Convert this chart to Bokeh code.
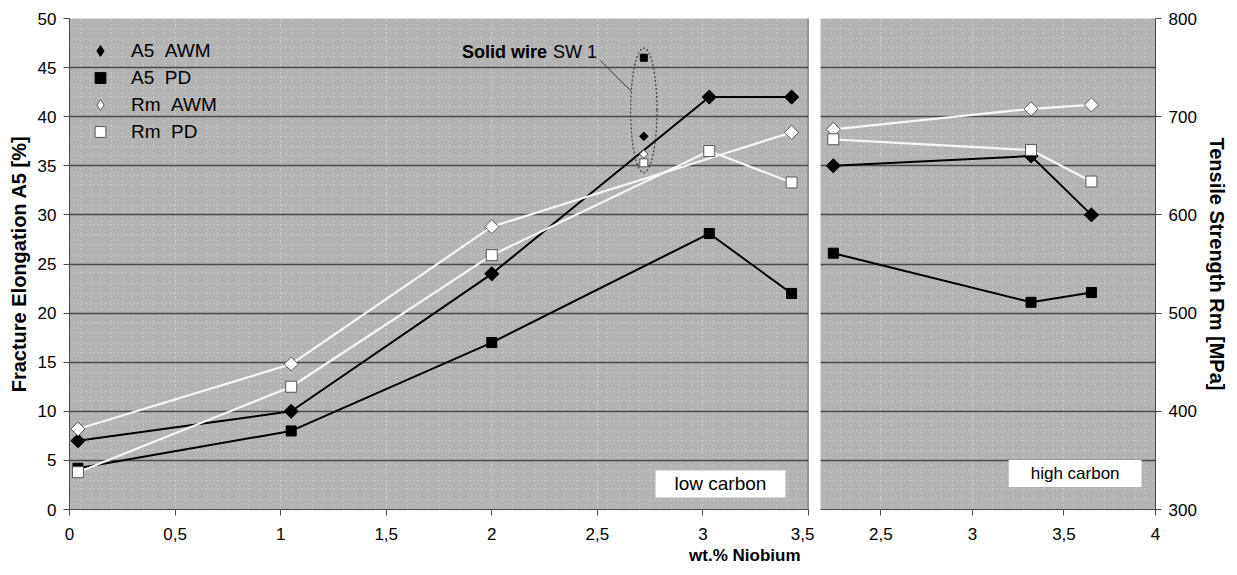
from bokeh.plotting import figure
from bokeh.models import (Range1d, LinearAxis, SingleIntervalTicker, Grid, Legend, LegendItem,
                          Label, Span, Title, CustomJSTickFormatter)
from bokeh.layouts import row
from bokeh.embed import file_html
from bokeh.resources import INLINE
import math

# ---------------- data ----------------
# low carbon wires (wt.% Nb)
lc_x = [0.04, 1.05, 2.0, 3.03, 3.42]
lc_a5_awm = [7, 10, 24, 42, 42]          # fracture elongation A5 [%], all-weld metal
lc_a5_pd = [4.2, 8, 17, 28.1, 22]        # fracture elongation A5 [%], PD
lc_rm_awm_x = [0.04, 1.05, 2.0, 3.42]
lc_rm_awm = [382, 448, 588, 684]         # tensile strength Rm [MPa], AWM
lc_rm_pd = [338, 425, 559, 665, 633]     # tensile strength Rm [MPa], PD

# solid wire SW 1
sw1_x = [2.72]
sw1_a5_awm = [38.0]
sw1_a5_pd = [46.0]
sw1_rm_awm = [662]
sw1_rm_pd = [653]

# high carbon wires
hc_x = [2.24, 3.32, 3.65]
hc_a5_awm = [35, 36, 30]
hc_a5_pd = [26.1, 21.1, 22.1]
hc_rm_awm = [687, 708, 712]
hc_rm_pd = [677, 666, 634]

series_names = ["A5\u00a0\u00a0AWM", "A5\u00a0\u00a0PD", "Rm\u00a0\u00a0AWM", "Rm\u00a0\u00a0PD"]

# ---------------- style ----------------
FONT = "Liberation Sans"
BG = "#b3b3b3"
MAJ = "#4a4a4a"
DOT = "#d6d6d6"
WHITE_LINE = "#f6f6f6"
TICK_FS = "17px"
ROT = math.pi / 4
NAN = float("nan")

fmt = CustomJSTickFormatter(code="return String(tick).replace('.', ',');")


def style_axis(ax):
    ax.axis_line_color = MAJ
    ax.major_tick_line_color = MAJ
    ax.major_tick_in = 0
    ax.major_tick_out = 6
    ax.minor_tick_line_color = None
    ax.major_label_text_font = FONT
    ax.major_label_text_font_size = TICK_FS
    ax.major_label_text_color = "black"
    ax.axis_label_text_font = FONT
    ax.axis_label_text_font_size = "20px"
    ax.axis_label_text_font_style = "bold"
    ax.axis_label_text_color = "black"


def add_grids(p, xticker):
    p.grid.visible = False
    yt = SingleIntervalTicker(interval=5, num_minor_ticks=5)
    gx = Grid(dimension=0, ticker=xticker, grid_line_color=DOT, grid_line_dash="1 3",
              minor_grid_line_color=DOT, minor_grid_line_dash="1 3")
    gy = Grid(dimension=1, ticker=yt, grid_line_color=MAJ, grid_line_width=1.6,
              minor_grid_line_color=DOT, minor_grid_line_dash="1 3")
    p.add_layout(gx, "center")
    p.add_layout(gy, "center")


def draw_series(p, x, a5_awm, a5_pd, rmx_awm, rm_awm, rm_pd):
    p.line(x, a5_pd, line_color="black", line_width=2)
    p.line(x, a5_awm, line_color="black", line_width=2)
    p.line(rmx_awm, rm_awm, line_color=WHITE_LINE, line_width=2.2, y_range_name="rm")
    p.line(x, rm_pd, line_color=WHITE_LINE, line_width=2.2, y_range_name="rm")
    p.scatter(x, a5_awm, marker="square", angle=ROT, size=10, fill_color="black", line_color="black")
    r2 = p.scatter(x, a5_pd, marker="square", size=10, fill_color="black", line_color="black")
    p.scatter(rmx_awm, rm_awm, marker="square", angle=ROT, size=10, fill_color="white",
              line_color="#555555", y_range_name="rm")
    r4 = p.scatter(x, rm_pd, marker="square", size=11, fill_color="white",
                   line_color="#555555", y_range_name="rm")
    return r2, r4


# ---------------- left panel: low carbon ----------------
p1 = figure(frame_width=739, frame_height=491, x_range=Range1d(0, 3.5), y_range=Range1d(0, 50),
            output_backend="svg", toolbar_location=None,
            min_border_left=69, min_border_right=6, min_border_top=18, min_border_bottom=63,
            background_fill_color=BG, border_fill_color="white", outline_line_color=None)
p1.extra_y_ranges = {"rm": Range1d(300, 800)}

xt1 = SingleIntervalTicker(interval=0.5, num_minor_ticks=10)
p1.xaxis.ticker = xt1
p1.xaxis.formatter = fmt
p1.xaxis.major_label_standoff = 12
p1.yaxis.ticker = SingleIntervalTicker(interval=5, num_minor_ticks=5)
p1.yaxis.axis_label = "Fracture Elongation A5 [%]"
p1.yaxis.major_label_standoff = 7
p1.yaxis.axis_label_standoff = 5
for ax in p1.xaxis + p1.yaxis:
    style_axis(ax)
add_grids(p1, xt1)
p1.add_layout(Span(location=p1.x_range.end, dimension="height", line_color=MAJ, line_width=1.6))

r_pd, r_rmpd = draw_series(p1, lc_x, lc_a5_awm, lc_a5_pd, lc_rm_awm_x, lc_rm_awm, lc_rm_pd)

# legend proxies for the diamond symbols (a single NaN point, never drawn in the plot)
lg_a5_awm = p1.scatter([NAN], [NAN], marker="diamond", fill_color="black", line_color="black")
lg_rm_awm = p1.scatter([NAN], [NAN], marker="diamond", fill_color="white", line_color="#555555")
lg = [lg_a5_awm, r_pd, lg_rm_awm, r_rmpd]

# SW 1 points (not connected)
p1.scatter(sw1_x, sw1_a5_pd, marker="square", size=7, fill_color="black", line_color="black")
p1.scatter(sw1_x, sw1_a5_awm, marker="square", angle=ROT, size=6, fill_color="black", line_color="black")
p1.scatter(sw1_x, sw1_rm_awm, marker="square", angle=ROT, size=6, fill_color="white", line_color="#555555",
           y_range_name="rm")
p1.scatter(sw1_x, sw1_rm_pd, marker="square", size=8, fill_color="white", line_color="#555555",
           y_range_name="rm")
# dotted ellipse around SW 1 values (in A5 units)
sw_vals = sw1_a5_awm + sw1_a5_pd + [(v - 300) / 10 for v in sw1_rm_awm + sw1_rm_pd]
ell_c = (max(sw_vals) + min(sw_vals)) / 2
ell_h = (max(sw_vals) - min(sw_vals)) + 2.0
p1.ellipse(x=sw1_x, y=[ell_c], width=0.125, height=ell_h, fill_alpha=0,
           line_color="#3a3a3a", line_dash="2 2", line_width=1.2)
# leader line from annotation to ellipse
p1.line([2.515, 2.66], [45.7, 42.6], line_color="#3a3a3a", line_width=1)
p1.add_layout(Label(x=2.29, y=46.6, text="Solid wire", text_align="right", text_baseline="middle",
                    text_font=FONT, text_font_size="18px", text_font_style="bold", x_offset=-6,
                    text_color="black"))
p1.add_layout(Label(x=2.29, y=46.6, text="SW 1", text_align="left", text_baseline="middle",
                    text_font=FONT, text_font_size="18px", text_color="black"))

p1.add_layout(Label(x=3.083, y=2.6, text="low carbon", text_align="center", text_baseline="middle",
                    text_font=FONT, text_font_size="19px", background_fill_color="white",
                    text_color="black", padding=dict(left=19, right=19, top=3, bottom=3)))

legend = Legend(items=[LegendItem(label=n, renderers=[r]) for n, r in zip(series_names, lg)],
                location=(16, 364), padding=5, spacing=0, glyph_width=30, glyph_height=27,
                label_height=27, label_standoff=16, background_fill_alpha=0,
                border_line_color=None, label_text_font=FONT, label_text_font_size="19px",
                label_text_color="black")
p1.add_layout(legend)

p1.add_layout(Title(text="wt.% Niobium", align="right", text_font=FONT, text_font_size="17px",
                    text_font_style="bold", offset=8, standoff=2, text_color="black"), "below")

# ---------------- right panel: high carbon ----------------
p2 = figure(frame_width=335, frame_height=491, x_range=Range1d(2.17, 4), y_range=Range1d(0, 50),
            output_backend="svg", toolbar_location=None, y_axis_location=None,
            min_border_left=6, min_border_right=80, min_border_top=18, min_border_bottom=63,
            background_fill_color=BG, border_fill_color="white", outline_line_color=None)
p2.extra_y_ranges = {"rm": Range1d(300, 800)}
xt2 = SingleIntervalTicker(interval=0.5, num_minor_ticks=9)
p2.xaxis.ticker = xt2
p2.xaxis.formatter = fmt
p2.xaxis.major_label_standoff = 12
rax = LinearAxis(y_range_name="rm", ticker=SingleIntervalTicker(interval=100, num_minor_ticks=2),
                 axis_label="Tensile Strength Rm [MPa]", major_label_standoff=7, axis_label_standoff=6)
p2.add_layout(rax, "right")
for ax in p2.xaxis + [rax]:
    style_axis(ax)
add_grids(p2, xt2)

draw_series(p2, hc_x, hc_a5_awm, hc_a5_pd, hc_x, hc_rm_awm, hc_rm_pd)

p2.add_layout(Label(x=3.561, y=3.67, text="high carbon", text_align="center", text_baseline="middle",
                    text_font=FONT, text_font_size="17px", background_fill_color="white",
                    text_color="black", padding=dict(left=22, right=22, top=4, bottom=4)))

layout = row(p1, p2)
open("out.html", "w").write(file_html(layout, INLINE))
